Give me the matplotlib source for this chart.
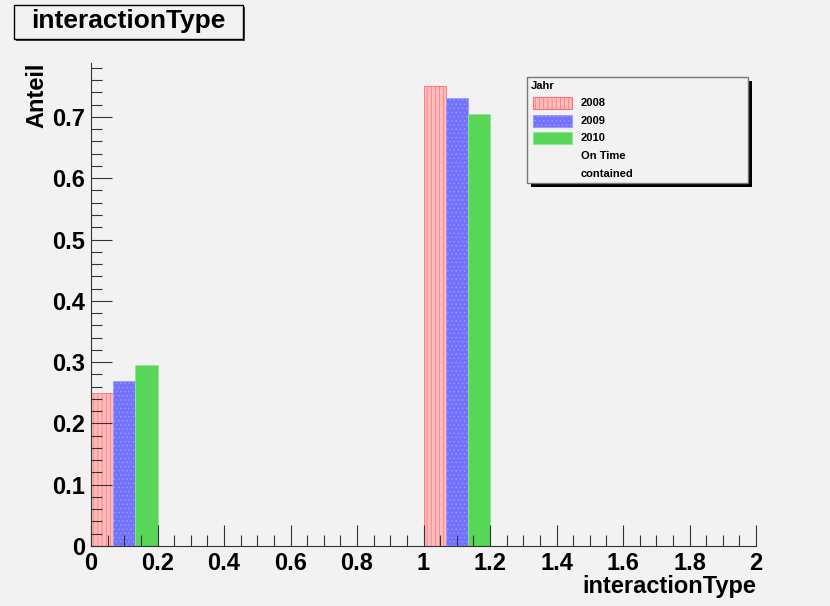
import numpy as np
import matplotlib.pyplot as plt
from matplotlib.ticker import MultipleLocator, FuncFormatter
from matplotlib.patches import Rectangle

plt.rcParams['font.family'] = ['Liberation Sans', 'DejaVu Sans']
plt.rcParams['hatch.linewidth'] = 0.5

bin_left = [0.0, 1.0]
bin_width = 0.2
years = ['2008', '2009', '2010']
frac_2008 = [0.25, 0.75]
frac_2009 = [0.269, 0.731]
frac_2010 = [0.295, 0.705]
extra_labels = ['On Time', 'contained']

W, H = 830, 606
bg = '#f2f2f2'
fig = plt.figure(figsize=(8.3, 6.06), dpi=100, facecolor=bg)
ax = fig.add_axes([91 / W, 1 - 546 / H, 665 / W, 483 / H], facecolor=bg)


def fx(px):
    return px / W


def fy(py):
    return 1 - py / H


sub = bin_width / 3
styles = [
    dict(facecolor='#ffbcbc', edgecolor='#ff7070', hatch='||||'),
    dict(facecolor='#7272ff', edgecolor='#9c9cff', hatch='....'),
    dict(facecolor='#57d657', edgecolor='#8ee88e', hatch=None),
]
for i, vals in enumerate([frac_2008, frac_2009, frac_2010]):
    x = np.array(bin_left) + i * sub
    ax.bar(x, vals, width=sub, align='edge', linewidth=0.6, **styles[i])

ax.set_xlim(0, 2)
ax.set_ylim(0, 0.788)
for s in ['top', 'right']:
    ax.spines[s].set_visible(False)
for s in ['left', 'bottom']:
    ax.spines[s].set_linewidth(0.8)
    ax.spines[s].set_color('#333333')

ax.xaxis.set_major_locator(MultipleLocator(0.2))
ax.xaxis.set_minor_locator(MultipleLocator(0.05))
ax.yaxis.set_major_locator(MultipleLocator(0.1))
ax.yaxis.set_minor_locator(MultipleLocator(0.02))
ax.xaxis.set_major_formatter(FuncFormatter(lambda v, p: f'{v:g}'))
ax.yaxis.set_major_formatter(FuncFormatter(lambda v, p: f'{v:g}'))
ax.tick_params(which='major', direction='in', length=15, width=0.8, color='#333333',
               labelsize=17, pad=4)
ax.tick_params(which='minor', direction='in', length=8, width=0.8, color='#333333')
for lab in ax.get_xticklabels() + ax.get_yticklabels():
    lab.set_fontweight('bold')

ax.set_xlabel('interactionType', fontsize=17, fontweight='bold', loc='right', labelpad=0)
ax.set_ylabel('Anteil', fontsize=17, fontweight='bold', loc='top', labelpad=3)

# title box with shadow
fig.add_artist(Rectangle((fx(16), fy(41)), fx(243) - fx(14), fy(5) - fy(39),
                         transform=fig.transFigure, facecolor='#444444', edgecolor='none'))
fig.add_artist(Rectangle((fx(14), fy(39)), fx(243) - fx(14), fy(5) - fy(39),
                         transform=fig.transFigure, facecolor=bg, edgecolor='black', linewidth=1))
fig.text(fx(128), fy(21), 'interactionType', fontsize=19, fontweight='bold',
         ha='center', va='center')

# legend box with shadow
fig.add_artist(Rectangle((fx(531), fy(187)), fx(748) - fx(527), fy(77) - fy(183),
                         transform=fig.transFigure, facecolor='black', edgecolor='none'))
fig.add_artist(Rectangle((fx(527), fy(183)), fx(748) - fx(527), fy(77) - fy(183),
                         transform=fig.transFigure, facecolor=bg, edgecolor='#777777', linewidth=1))
fig.text(fx(531), fy(86), 'Jahr', fontsize=8, fontweight='bold', ha='left', va='center')
rows = [103, 121, 138, 156, 174]
for i, name in enumerate(years + extra_labels):
    if i < 3:
        fig.add_artist(Rectangle((fx(533), fy(rows[i] + 6)), fx(572) - fx(533), fy(0) - fy(12),
                                 transform=fig.transFigure, linewidth=0.8, **styles[i]))
    fig.text(fx(581), fy(rows[i]), name, fontsize=8, fontweight='bold', ha='left', va='center')

fig.savefig('out.png', dpi=100, facecolor=bg)
